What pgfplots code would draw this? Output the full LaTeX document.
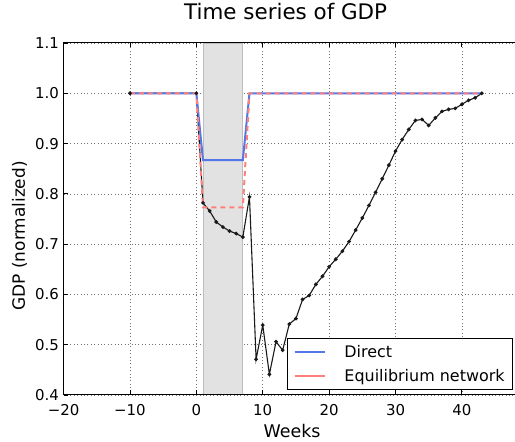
\documentclass[border=0pt]{standalone}
\usepackage{pgfplots}
\pgfplotsset{compat=1.18}
\usepackage{fontspec}
\setmainfont{DejaVu Sans}
\usetikzlibrary{calc}

\definecolor{directblue}{RGB}{84,118,232}
\definecolor{eqred}{RGB}{255,128,122}
\definecolor{spanfill}{RGB}{226,226,226}
\definecolor{spanedge}{RGB}{190,190,190}

\begin{document}
\begin{tikzpicture}
\begin{axis}[
  name=ax,
  scale only axis,
  width=451.4bp, height=352bp,
  xmin=-20, xmax=48, ymin=0.4, ymax=1.1,
  clip=true,
  axis line style={draw=none},
  tick align=inside,
  xtick pos=both, ytick pos=left,
  major tick length=4.5bp,
  tick style={black, line width=0.8bp},
  xtick={-20,-10,0,10,20,30,40},
  xticklabels={−20,−10,0,10,20,30,40},
  ytick={0.4,0.5,0.6,0.7,0.8,0.9,1.0,1.1},
  yticklabels={0.4,0.5,0.6,0.7,0.8,0.9,1.0,1.1},
  ticklabel style={font=\fontsize{15}{18}\selectfont, inner sep=0pt},
  xticklabel style={anchor=base, yshift=-21bp},
  yticklabel style={anchor=east, xshift=-4.6bp},
  grid=major,
  major grid style={black!55, line width=0.6bp, dash pattern=on 1bp off 2.4bp},
  title={Time series of GDP},
  title style={at={(rel axis cs:0.492,1)}, anchor=base, yshift=18bp,
               font=\fontsize{21.5}{25}\selectfont, inner sep=0pt},
  xlabel={Weeks},
  xlabel style={at={(rel axis cs:0.506,0)}, anchor=base, yshift=-43bp,
                font=\fontsize{17.5}{21}\selectfont, inner sep=0pt},
  ylabel={GDP (normalized)},
  ylabel style={at={(rel axis cs:0,0.452)}, rotate=0, anchor=base, yshift=38.6bp,
                font=\fontsize{17}{20}\selectfont, inner sep=0pt},
  legend cell align=left,
  legend image code/.code={%
    \path (0bp,0bp) -- (6bp,0bp);
    \draw[#1] (6bp,0bp) -- (30bp,0bp);},
  legend style={at={(rel axis cs:0.9956,0.0142)}, anchor=south east,
                draw=black, line width=0.9bp, fill=white,
                font=\fontsize{16}{19}\selectfont,
                inner xsep=6bp, inner ysep=5bp, row sep=6bp,
                /tikz/every odd column/.append style={column sep=17bp}},
]
% shaded weeks of the shock
\addplot[fill=spanfill, draw=spanedge, line width=0.8bp, forget plot]
  coordinates {(1,1.1) (7,1.1)} \closedcycle;

% simulated GDP path
\addplot[black!90, line width=1.1bp, mark=*, mark size=1.3bp, forget plot]
  coordinates {
  (-10,1.000) (0,1.000) (1,0.782) (2,0.766) (3,0.744) (4,0.734) (5,0.726)
  (6,0.721) (7,0.714) (8,0.794) (9,0.471) (10,0.539) (11,0.441) (12,0.506)
  (13,0.489) (14,0.541) (15,0.552) (16,0.590) (17,0.598) (18,0.620)
  (19,0.636) (20,0.655) (21,0.670) (22,0.686) (23,0.705) (24,0.728)
  (25,0.752) (26,0.777) (27,0.803) (28,0.830) (29,0.857) (30,0.885)
  (31,0.908) (32,0.928) (33,0.946) (34,0.948) (35,0.936) (36,0.951)
  (37,0.964) (38,0.968) (39,0.970) (40,0.978) (41,0.986) (42,0.991)
  (43,1.000)};

\addplot[directblue, line width=2bp, forget plot]
  coordinates {(-10,1.0) (0,1.0) (1,0.867) (7,0.867) (8,1.0) (43,1.0)};

\addplot[eqred, line width=2bp, dash pattern=on 5bp off 4bp, forget plot]
  coordinates {(-10,1.0) (0,1.0) (1,0.773) (7,0.773) (8,1.0) (43,1.0)};

% legend keys are drawn as plain solid strokes
\addlegendimage{directblue, line width=1.6bp}
\addlegendentry{Direct}
\addlegendimage{eqred, line width=1.6bp}
\addlegendentry{Equilibrium network}
\end{axis}
% frame: top, left and bottom spines (the right one lies beyond the page)
\draw[black, line width=1bp] ($(ax.north east)+(5bp,0bp)$) -- (ax.north west)
  -- (ax.south west) -- ($(ax.south east)+(5bp,0bp)$);
\pgfresetboundingbox
\path ($(ax.south west)+(-63.6bp,-47bp)$) rectangle ($(ax.north east)+(0bp,43bp)$);
\end{tikzpicture}
\end{document}
